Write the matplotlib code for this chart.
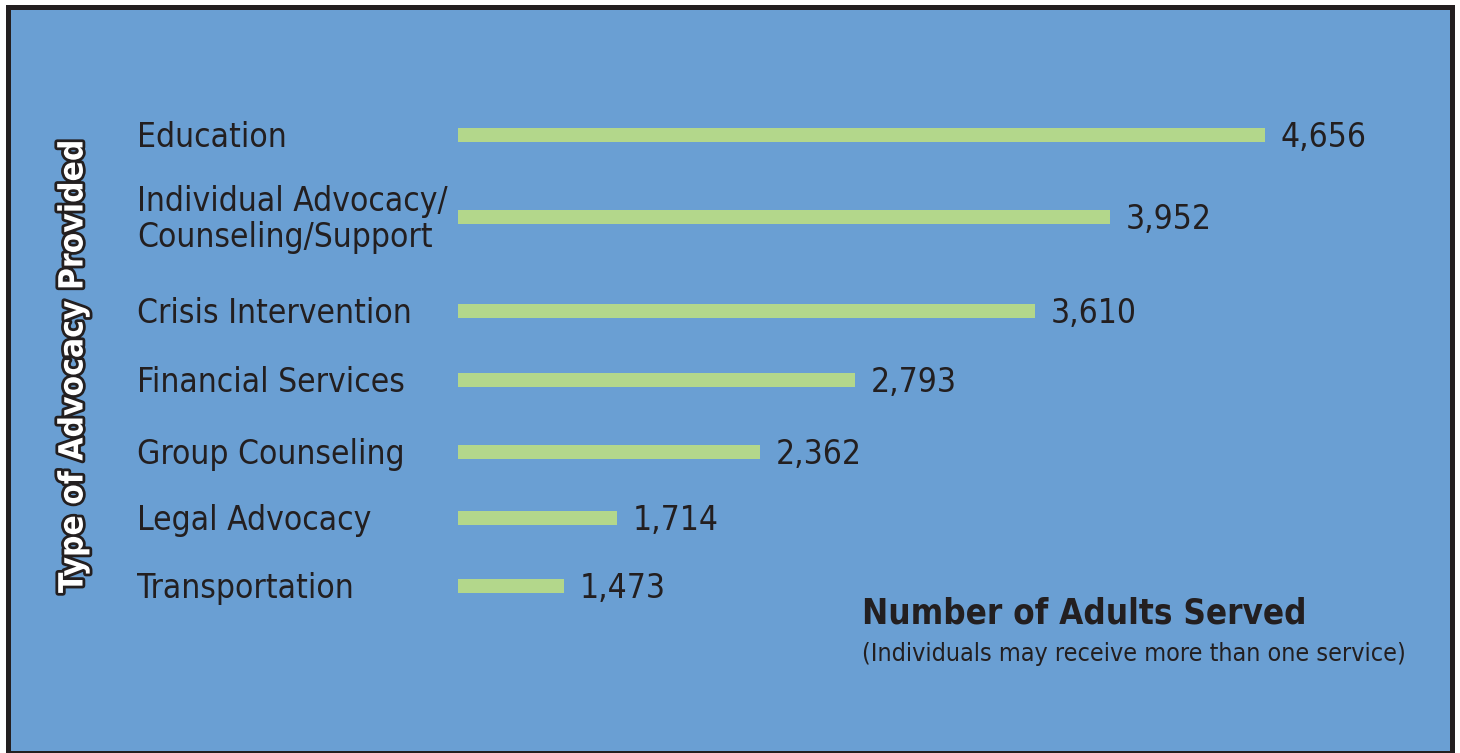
import numpy as np
import matplotlib
matplotlib.use("Agg")
import matplotlib.pyplot as plt
from matplotlib.patches import Rectangle
from matplotlib.transforms import blended_transform_factory
import matplotlib.patheffects as pe

plt.rcParams['font.family'] = ['Liberation Sans Narrow', 'DejaVu Sans']
plt.rcParams['font.stretch'] = 'condensed'

categories = ["Education", "Individual Advocacy/\nCounseling/Support", "Crisis Intervention",
              "Financial Services", "Group Counseling", "Legal Advocacy", "Transportation"]
adults_served = [4656, 3952, 3610, 2793, 2362, 1714, 1473]

# layout (pixel rows, top-down)
row_y = [134.5, 217, 311, 380, 452, 518, 586]

W, H = 1460, 753
blue = '#6a9fd3'
green = '#b3d78b'
ink = '#231f20'

fig = plt.figure(figsize=(W / 100, H / 100), dpi=100)
fig.patch.set_facecolor('white')
fig.add_artist(Rectangle((6 / W, 0), (1455 - 6) / W, (H - 5) / H, transform=fig.transFigure,
                         facecolor=ink, edgecolor='none', zorder=-5))
fig.add_artist(Rectangle((11 / W, 2 / H), (1450 - 11) / W, (H - 12) / H, transform=fig.transFigure,
                         facecolor=blue, edgecolor='none', zorder=-4))

ax = fig.add_axes([458 / W, 0, (1450 - 458) / W, 1])
ax.set_facecolor('none')
px_per_unit = 0.22023
x0 = 991.7
ax.set_xlim(x0, x0 + (1450 - 458) / px_per_unit)
ax.set_ylim(H, 0)
ax.axis('off')

ax.barh(row_y, adults_served, height=14, color=green, edgecolor='none')

fs = 24
cap = 24
for y, v in zip(row_y, adults_served):
    ax.annotate(f"{v:,}", xy=(v, y), xytext=(16, -cap / 2), textcoords='offset pixels',
                ha='left', va='baseline', fontsize=fs, color=ink, annotation_clip=False)

trans = blended_transform_factory(ax.transAxes, ax.transData)
lab_x = (137 - 458) / (1450 - 458)
for y, lab in zip(row_y, categories):
    n = lab.count("\n") + 1
    # baseline of the last line
    ax.text(lab_x, y + cap / 2 + (n - 1) * 18, lab, transform=trans, ha='left', va='baseline',
            fontsize=fs, color=ink, linespacing=1.13, clip_on=False)

fig.text(73 / W, 1 - 366 / H, "Type of Advocacy Provided", rotation=90, ha='center', va='center',
         color='white', fontsize=24, fontweight='bold',
         path_effects=[pe.withStroke(linewidth=4, foreground=ink)])

fig.text(862 / W, 1 - 623 / H, "Number of Adults Served", ha='left', va='baseline',
         fontsize=25, fontweight='bold', color=ink)
fig.text(862 / W, 1 - 661 / H, "(Individuals may receive more than one service)", ha='left',
         va='baseline', fontsize=18, color=ink)

fig.savefig("out.png", dpi=100, facecolor=fig.get_facecolor())
